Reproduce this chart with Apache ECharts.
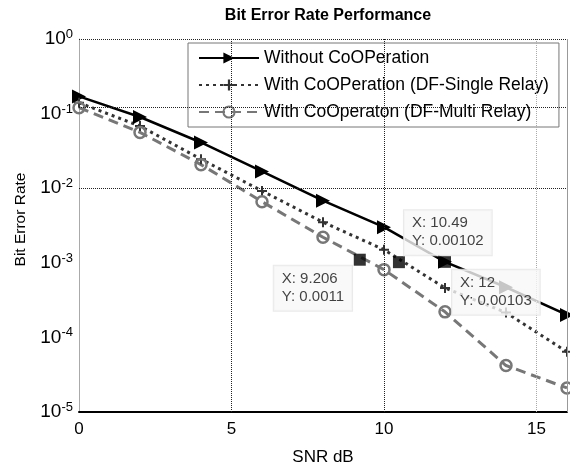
<!DOCTYPE html>
<html>
<head>
<meta charset="utf-8">
<script src="https://cdn.jsdelivr.net/npm/echarts@6/dist/echarts.min.js"></script>
<style>
  html, body { margin: 0; padding: 0; background: #fff; }
  #chart { width: 570px; height: 471px; }
</style>
</head>
<body>
<div id="chart"></div>
<script>
// values
const snr = [0, 2, 4, 6, 8, 10, 12, 14, 16];
const berNoCoop = [0.17, 0.09, 0.041, 0.0168, 0.0068, 0.0030, 0.00103, 4.7e-4, 2.0e-4];
const berSingle = [0.14, 0.068, 0.0245, 0.0092, 0.0035, 0.0015, 4.6e-4, 2.15e-4, 6.4e-5];
const berMulti = [0.12, 0.056, 0.0207, 0.0066, 0.0022, 8.1e-4, 2.2e-4, 4.2e-5, 2.1e-5];
const seriesNames = [
  "Without CoOPeration",
  "With CoOPeration (DF-Single Relay)",
  "With CoOperaton (DF-Multi Relay)"
];
const tipX = [9.206, 10.49, 12];
const tipY = [0.0011, 0.00102, 0.00103];
// horizontal grid lines as they show in the picture
const gridLevels = [1, 0.118, 0.0104, 5.6e-3, 3.28e-3, 2.26e-3, 6.5e-4, 7.3e-5, 4.2e-5];
const gridX = [5, 10, 15];

const font = "'Liberation Sans', Arial, sans-serif";
const plusPath = "path://M4,0H6V4H10V6H6V10H4V6H0V4H4Z";

function pairs(ys) {
  return snr.map((x, i) => [x, ys[i]]);
}

// label boxes sit beside each marker
const tipLabelPos = [[-80, 12], [11, -46], [13, 14]];

const chart = echarts.init(document.getElementById("chart"));

chart.setOption({
  animation: false,
  backgroundColor: "#fff",
  title: {
    text: "Bit Error Rate Performance",
    left: 323,
    top: 3,
    textAlign: "center",
    textStyle: { fontFamily: font, fontSize: 16, fontWeight: "bold", color: "#000" }
  },
  legend: {
    data: seriesNames,
    orient: "vertical",
    left: 188,
    top: 43,
    itemWidth: 60,
    itemHeight: 14,
    itemGap: 9,
    padding: [6, 10, 6, 10],
    backgroundColor: "#fff",
    borderColor: "#777",
    borderWidth: 1,
    textStyle: { fontFamily: font, fontSize: 17.5, color: "#000" }
  },
  grid: { left: 79, right: 3, top: 39, bottom: 49 },
  xAxis: {
    type: "value",
    min: 0,
    max: 16,
    interval: 5,
    name: "SNR dB",
    nameLocation: "middle",
    nameGap: 37,
    nameTextStyle: { fontFamily: font, fontSize: 17, color: "#000" },
    axisLine: { lineStyle: { color: "#000", width: 2 } },
    axisTick: { show: false },
    axisLabel: {
      showMaxLabel: false,
      margin: 9,
      fontFamily: font,
      fontSize: 17,
      color: "#000"
    },
    splitLine: { show: false }
  },
  yAxis: {
    type: "log",
    logBase: 10,
    min: 1e-5,
    max: 1,
    name: "Bit Error Rate",
    nameLocation: "middle",
    nameGap: 50,
    nameTextStyle: { fontFamily: font, fontSize: 15.5, color: "#000", padding: [0, 0, 0, 12] },
    axisLine: { show: true, lineStyle: { color: "#aaa", width: 1 } },
    axisTick: { show: false },
    splitLine: { show: false },
    axisLabel: {
      margin: 6,
      formatter: function (v) {
        const e = Math.round(Math.log10(v));
        return "{b|10}{s|" + e + "}";
      },
      rich: {
        b: { fontFamily: font, fontSize: 19, color: "#000", lineHeight: 22 },
        s: { fontFamily: font, fontSize: 13, color: "#000", verticalAlign: "top", lineHeight: 22 }
      }
    }
  },
  series: [
    {
      name: seriesNames[0],
      type: "line",
      data: pairs(berNoCoop),
      symbol: "triangle",
      symbolRotate: -90,
      symbolSize: 14,
      lineStyle: { color: "#000", width: 2.5 },
      itemStyle: { color: "#000" },
      markLine: {
        silent: true,
        symbol: "none",
        label: { show: false },
        animation: false,
        lineStyle: { color: "#222", type: "dotted", width: 1 },
        data: gridLevels.map(v => ({ yAxis: v }))
          .concat(gridX.map((x, i) => ({
            xAxis: x,
            lineStyle: { color: i === 2 ? "#aaa" : "#222", type: "dotted", width: 1 }
          })))
          .concat([{ xAxis: 16, lineStyle: { color: "#999", type: "solid", width: 1 } }])
      }
    },
    {
      name: seriesNames[1],
      type: "line",
      data: pairs(berSingle),
      symbol: plusPath,
      symbolSize: 10,
      lineStyle: { color: "#333", width: 3, type: [3, 4] },
      itemStyle: { color: "#333" }
    },
    {
      name: seriesNames[2],
      type: "line",
      data: pairs(berMulti),
      symbol: "circle",
      symbolSize: 11,
      lineStyle: { color: "#777", width: 3, type: [10, 6] },
      itemStyle: { color: "rgba(255,255,255,0)", borderColor: "#777", borderWidth: 2.5 }
    },
    {
      name: "datatips",
      type: "scatter",
      zlevel: 1,
      z: 10,
      symbol: "rect",
      symbolSize: 12,
      itemStyle: { color: "#000" },
      data: tipX.map((x, i) => ({
        value: [x, tipY[i]],
        label: { position: tipLabelPos[i] }
      })),
      label: {
        show: true,
        align: "left",
        verticalAlign: "top",
        formatter: p => "X: " + p.value[0] + "\nY: " + p.value[1],
        fontFamily: font,
        fontSize: 15,
        lineHeight: 18,
        color: "#111",
        backgroundColor: "#f8f8f8",
        borderColor: "#e4e4e4",
        borderWidth: 1,
        padding: [4, 8, 5, 8]
      }
    }
  ]
});
</script>
</body>
</html>
